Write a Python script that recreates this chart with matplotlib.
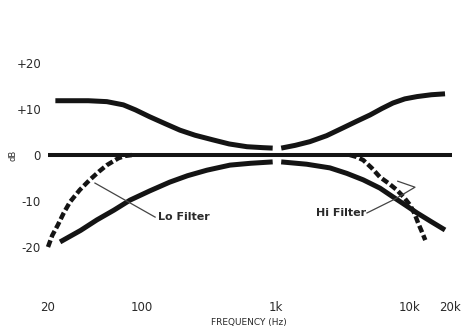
import matplotlib
matplotlib.use('Agg')
import matplotlib.pyplot as plt

# Tone control response curves
bass_boost_f = [22.7, 40, 55, 73, 90, 115, 150, 193, 250, 339, 450, 611, 800, 950]
bass_boost_db = [11.8, 11.8, 11.6, 10.9, 9.8, 8.3, 6.8, 5.4, 4.3, 3.3, 2.4, 1.8, 1.6, 1.5]

bass_cut_f = [24.6, 35, 46.4, 62, 82, 115, 162, 220, 307, 456, 650, 950]
bass_cut_db = [-18.9, -16.4, -14.1, -12.0, -9.8, -7.8, -5.9, -4.5, -3.3, -2.2, -1.8, -1.5]

treble_boost_f = [1100, 1400, 1800, 2400, 3180, 4000, 5060, 6200, 7500, 9200, 11360, 14500, 18360]
treble_boost_db = [1.5, 2.1, 2.9, 4.2, 5.9, 7.3, 8.7, 10.1, 11.3, 12.2, 12.7, 13.1, 13.3]

treble_cut_f = [1100, 1700, 2540, 3400, 4500, 6000, 7500, 9300, 11360, 14500, 18360]
treble_cut_db = [-1.5, -2.0, -2.8, -4.0, -5.4, -7.2, -9.1, -10.9, -12.6, -14.5, -16.3]

flat_f = [20, 20600]
flat_db = [0, 0]

lo_filter_f = [20, 21.5, 23.7, 26.2, 29.2, 34.5, 41, 48, 55, 67, 75, 85]
lo_filter_db = [-20, -17.5, -15.2, -12.6, -10.2, -7.6, -5.4, -3.6, -2.2, -0.7, -0.2, 0]

hi_filter_f = [3580, 4000, 4500, 5200, 6000, 7000, 8020, 9000, 10080, 10900, 11570, 12300, 13080]
hi_filter_db = [0, -0.4, -1.1, -2.8, -4.8, -6.2, -7.6, -9.1, -10.9, -12.8, -14.8, -16.6, -18.5]

x_ticks = [20, 100, 1000, 10000, 20000]
x_labels = ['20', '100', '1k', '10k', '20k']
y_ticks = [20, 10, 0, -10, -20]
y_labels = ['+20', '+10', '0', '-10', '-20']

INK = '#141414'
TXT = '#2a2a2a'

fig = plt.figure(figsize=(4.67, 3.31), dpi=100)
ax = fig.add_axes([48 / 467, 1 - 293 / 331, 402 / 467, 253 / 331])
ax.set_xscale('log')
ax.set_xlim(20, 20000)
ax.set_ylim(-30, 25)

solid = dict(color=INK, lw=3.6, solid_capstyle='butt', solid_joinstyle='round', clip_on=False)
ax.plot(flat_f, flat_db, color=INK, lw=2.9, solid_capstyle='butt', clip_on=False)
ax.plot(bass_boost_f, bass_boost_db, **solid)
ax.plot(bass_cut_f, bass_cut_db, **solid)
ax.plot(treble_boost_f, treble_boost_db, **solid)
ax.plot(treble_cut_f, treble_cut_db, **solid)

dashed = dict(color=INK, lw=3.2, dashes=(1.6, 0.7), dash_capstyle='butt', clip_on=False)
ax.plot(lo_filter_f, lo_filter_db, **dashed)
ax.plot(hi_filter_f, hi_filter_db, **dashed)

# Labels with leader lines
ax.plot([126, 44.8], [-13.5, -6.1], color='#444444', lw=0.9)
ax.text(132, -13.5, 'Lo Filter', fontsize=8, fontweight='bold', color=TXT,
        ha='left', va='center')
ax.plot([4800, 7740, 10960, 8150], [-12.6, -9.6, -7.0, -5.7], color='#444444', lw=0.9)
ax.text(4750, -12.6, 'Hi Filter', fontsize=8, fontweight='bold', color=TXT,
        ha='right', va='center')

ax.set_xticks(x_ticks)
ax.set_xticklabels(x_labels)
ax.minorticks_off()
ax.set_yticks(y_ticks)
ax.set_yticklabels(y_labels)
ax.tick_params(axis='both', length=0, labelsize=8.5, labelcolor=TXT)
ax.tick_params(axis='x', pad=6)
ax.tick_params(axis='y', pad=5)
for s in ax.spines.values():
    s.set_visible(False)

fig.text(13 / 467, 1 - 155 / 331, 'dB', rotation=90, fontsize=6, color=TXT,
         ha='center', va='center')
fig.text(249 / 467, 1 - 323 / 331, 'FREQUENCY (Hz)', fontsize=6.5, color=TXT,
         ha='center', va='center')

fig.savefig('out.png', dpi=100)
